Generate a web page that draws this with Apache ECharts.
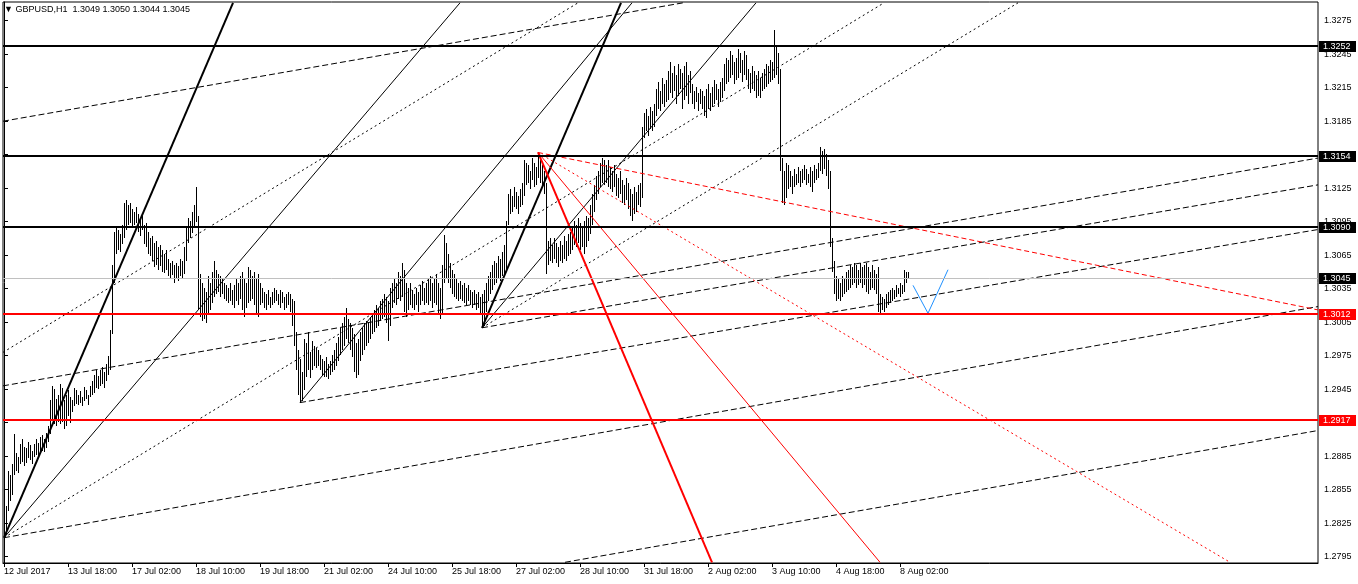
<!DOCTYPE html>
<html>
<head>
<meta charset="utf-8">
<script src="https://cdn.jsdelivr.net/npm/echarts@6/dist/echarts.min.js"></script>
<style>
html, body { margin: 0; padding: 0; background: #fff; }
#chart { width: 1358px; height: 584px; }
</style>
</head>
<body>
<div id="chart"></div>
<script>
// GBPUSD H1 bars from 12 Jul 2017 10:00, values in pips (3045 -> 1.3045)
const highs = [
  2826,2840,2872,2868,2878,2905,2888,2884,2896,2900,2893,2892,2898,2895,2890,2896,2900,2897,2902,2904,2900,2906,2912,2935,
  2948,2945,2936,2940,2950,2946,2935,2940,2944,2938,2935,2946,2944,2940,2943,2938,2947,2944,2940,2948,2952,2958,2962,2957,2962,2965,2960,2968,2975,
  2998,3056,3086,3090,3088,3084,3092,3112,3114,3110,3112,3106,3104,3108,3102,3098,3100,3092,3094,3086,3080,3082,3076,3078,3072,3074,3070,3066,3070,3062,3058,3060,3056,3058,3055,3062,3060,3072,3090,3098,3096,3104,3110,3126,3100,
  3048,3040,3036,3032,3046,3040,3050,3060,3052,3048,3046,3044,3040,3038,3036,3040,3034,3038,3044,3040,3046,3050,3044,3040,3054,3052,3046,3050,3044,3048,3040,3036,3032,3030,3034,3028,3032,3036,3034,3030,3034,3032,3028,3030,3032,3030,3026,
  3024,2996,2980,2972,2960,2990,2986,2996,2978,2988,2984,2982,2980,2976,2972,2970,2974,2968,2970,2976,2980,2986,2992,3000,3004,3010,3018,3008,3004,3000,2994,2986,2990,2996,3000,3004,3006,3004,3010,3012,3016,3020,3018,3024,3026,3030,3028,3024,3036,
  3040,3044,3040,3050,3046,3058,3052,3040,3036,3040,3034,3030,3036,3032,3038,3042,3036,3040,3044,3046,3040,3044,3048,3040,3036,3056,3083,3076,3066,3058,3052,3048,3044,3040,3042,3038,3040,3036,3038,3034,3032,3034,3030,3032,3028,3030,3034,
  3040,3046,3050,3056,3060,3058,3064,3062,3068,3074,3096,3120,3124,3118,3126,3122,3118,3124,3130,3150,3148,3146,3140,3152,3148,3144,3157,3150,3146,3140,3130,
  3078,3080,3074,3080,3076,3072,3078,3074,3082,3078,3084,3086,3090,3096,3092,3098,3094,3090,3096,3100,3098,3110,3120,3128,3136,3140,3148,3152,3150,3146,3150,3144,3140,3146,3138,3134,3140,3132,3128,3134,3130,3124,3120,3126,3122,3128,3130,
  3180,3192,3196,3190,3198,3194,3200,3214,3220,3212,3224,3218,3222,3230,3238,3228,3234,3226,3236,3232,3228,3234,3238,3226,3230,3218,3212,3216,3210,3214,3212,3208,3214,3218,3210,3216,3222,3218,3214,3220,3224,
  3236,3242,3240,3248,3244,3238,3242,3250,3246,3240,3248,3244,3232,3228,3234,3230,3226,3230,3224,3228,3232,3236,3234,3240,3238,3267,3252,3246,3232,3152,3140,3148,3146,3140,3136,3142,3138,3144,3140,3142,3146,3142,3138,3144,3140,3146,3142,3148,3162,3158,3160,3156,3150,
  3140,3080,3060,3046,3044,3040,3046,3044,3050,3052,3056,3054,3058,3056,3052,3058,3054,3056,3058,3054,3050,3056,3052,3048,3054,3030,3028,3026,3030,3032,3034,3036,3034,3038,3036,3040,3038,3052,3050,3050
];
const lows = [
  2812,2814,2836,2845,2850,2868,2872,2870,2878,2880,2876,2879,2883,2882,2878,2884,2886,2885,2888,2890,2889,2892,2898,2905,
  2918,2914,2912,2916,2914,2916,2909,2912,2921,2915,2925,2930,2932,2931,2933,2930,2934,2936,2931,2938,2940,2942,2946,2945,2948,2950,2946,2952,2958,
  2962,2994,3040,3066,3070,3068,3075,3080,3088,3092,3094,3090,3092,3094,3086,3082,3088,3075,3072,3066,3064,3060,3054,3056,3052,3055,3050,3049,3052,3046,3044,3047,3040,3044,3042,3046,3044,3048,3060,3076,3080,3085,3090,3095,3016,
  3010,3006,3008,3004,3012,3016,3022,3028,3030,3032,3028,3030,3026,3024,3022,3024,3020,3018,3024,3020,3026,3016,3010,3018,3022,3024,3026,3020,3012,3010,3020,3022,3018,3016,3020,3018,3020,3022,3024,3020,3018,3022,3016,3018,3020,3014,3002,
  2984,2962,2940,2933,2934,2944,2956,2962,2955,2962,2966,2964,2966,2962,2958,2956,2956,2954,2958,2960,2962,2966,2970,2976,2980,2984,2990,2986,2980,2974,2960,2955,2958,2970,2976,2980,2984,2986,2990,2994,2996,3000,3002,3006,3008,3010,3004,2988,3002,
  3018,3022,3020,3026,3024,3028,3014,3010,3016,3020,3018,3016,3020,3014,3020,3024,3020,3022,3020,3024,3018,3022,3020,3012,3008,3012,3040,3044,3040,3036,3030,3028,3026,3024,3026,3024,3022,3020,3024,3020,3018,3020,3016,3018,3012,3000,3002,
  3014,3024,3030,3034,3038,3040,3044,3042,3046,3048,3052,3092,3102,3104,3108,3106,3102,3108,3110,3118,3128,3130,3124,3132,3126,3128,3134,3130,3126,3120,3048,
  3056,3060,3058,3062,3058,3054,3060,3058,3062,3060,3064,3066,3070,3074,3072,3076,3070,3072,3066,3072,3078,3084,3092,3104,3114,3120,3126,3130,3128,3130,3126,3124,3122,3126,3118,3116,3120,3112,3110,3114,3106,3100,3096,3102,3104,3110,3108,
  3116,3170,3176,3172,3178,3176,3180,3190,3196,3194,3200,3198,3202,3204,3210,3206,3212,3200,3208,3214,3196,3204,3208,3200,3210,3200,3196,3202,3194,3200,3196,3190,3188,3196,3194,3198,3200,3204,3198,3202,3206,
  3212,3218,3220,3224,3226,3218,3222,3224,3228,3220,3226,3222,3214,3210,3214,3212,3206,3208,3206,3212,3214,3216,3218,3220,3222,3224,3226,3218,3140,3112,3110,3116,3124,3126,3120,3126,3128,3130,3126,3130,3132,3128,3130,3126,3122,3130,3132,3134,3140,3138,3142,3136,3124,
  3072,3050,3030,3024,3026,3024,3028,3030,3032,3034,3036,3038,3040,3036,3038,3040,3036,3038,3032,3030,3034,3036,3034,3030,3014,3012,3016,3014,3018,3020,3022,3024,3026,3028,3030,3028,3030,3032,3040,3044
];

// time axis labels, one every 32 bars
const timeLabels = ['12 Jul 2017','13 Jul 18:00','17 Jul 02:00','18 Jul 10:00','19 Jul 18:00','21 Jul 02:00','24 Jul 10:00',
  '25 Jul 18:00','27 Jul 02:00','28 Jul 10:00','31 Jul 18:00','2 Aug 02:00','3 Aug 10:00','4 Aug 18:00','8 Aug 02:00'];
const priceTicks = [1.2795,1.2825,1.2855,1.2885,1.2915,1.2945,1.2975,1.3005,1.3035,1.3065,1.3095,1.3125,1.3155,1.3185,1.3215,1.3245,1.3275];

const levelsBlack = [1.3252, 1.3154, 1.3090];
const levelsRed = [1.3012, 1.2917];
const bidPrice = 1.3045;
const header = '\u25BC GBPUSD,H1  1.3049 1.3050 1.3044 1.3045';

// trendline anchors: [bar, price, bar, price]
const fanThick = [[0, 1.2812, 114.5, 1.3291], [239, 1.3000, 308.5, 1.3291]];
const fanThin = [[0, 1.2812, 228, 1.3291], [148, 1.2933, 314, 1.3291], [239, 1.3000, 376, 1.3291]];
const fanDot = [[-0.5, 1.2978, 287, 1.3291], [0, 1.2812, 440, 1.3291], [239, 1.3000, 507, 1.3291]];
const fanDash = [[-0.5, 1.3185, 339.5, 1.3291], [-0.5, 1.2948, 657, 1.3152], [0, 1.2812, 657, 1.3019],
  [148, 1.2933, 657, 1.3088], [239, 1.3000, 657, 1.3128], [280.5, 1.2790, 657, 1.2908]];
const redThick = [[267, 1.3157, 354, 1.2790]];
const redThin = [[267, 1.3157, 438, 1.2790]];
const redDot = [[267, 1.3157, 613, 1.2790]];
const redDash = [[267, 1.3157, 657, 1.3016]];
const bluePath = [[454.5, 1.3038], [462, 1.3013], [472, 1.3052]];

const FONT = '"Liberation Sans", Arial, sans-serif';
const toPrice = v => 1 + v / 10000;

let chart = echarts.init(document.getElementById('chart'), null, { renderer: 'canvas' });

function trendSeries(list, color, width, type, z) {
  return list.map(a => ({
    type: 'line',
    data: [[a[0], a[1]], [a[2], a[3]]],
    symbol: 'none',
    silent: true,
    clip: true,
    z: z,
    lineStyle: { color: color, width: width, type: type }
  }));
}

function hlineSeries(levels, color, width) {
  return {
    type: 'custom',
    silent: true,
    z: 4,
    data: levels.map(p => [0, p]),
    encode: { x: 0, y: 1 },
    renderItem: (params, api) => {
      const cs = params.coordSys;
      const y = Math.round(api.coord([0, api.value(1)])[1]) + (width % 2 ? 0.5 : 0);
      return {
        type: 'line',
        shape: { x1: cs.x, y1: y, x2: cs.x + cs.width, y2: y },
        style: { stroke: color, lineWidth: width }
      };
    }
  };
}

// price boxes on the right scale
const boxes = levelsBlack.map(p => [0, p, '#000'])
  .concat([[0, bidPrice, '#000']])
  .concat(levelsRed.map(p => [0, p, '#ff0000']));

const series = [];

// high-low bars
series.push({
  type: 'custom',
  silent: true,
  z: 2,
  clip: true,
  data: highs.map((h, i) => [i, toPrice(lows[i]), toPrice(h)]),
  encode: { x: 0, y: [1, 2] },
  renderItem: (params, api) => {
    const lo = api.coord([api.value(0), api.value(1)]);
    const hi = api.coord([api.value(0), api.value(2)]);
    const x = Math.round(lo[0]) + 0.5;
    let y1 = Math.round(lo[1]), y2 = Math.round(hi[1]);
    if (y1 - y2 < 1) y2 = y1 - 1;
    return { type: 'line', shape: { x1: x, y1: y1, x2: x, y2: y2 }, style: { stroke: '#000', lineWidth: 1 } };
  }
});

series.push(hlineSeries([bidPrice], '#c0c0c0', 1));
series.push(hlineSeries(levelsBlack, '#000', 2));
series.push(hlineSeries(levelsRed, '#ff0000', 2));

series.push(...trendSeries(fanThick, '#000', 2, 'solid', 3));
series.push(...trendSeries(fanThin, '#000', 1, 'solid', 3));
series.push(...trendSeries(fanDot, '#000', 1, [2, 3], 3));
series.push(...trendSeries(fanDash, '#000', 1, [6, 3], 3));
series.push(...trendSeries(redThick, '#ff0000', 2, 'solid', 3));
series.push(...trendSeries(redThin, '#ff0000', 1, 'solid', 3));
series.push(...trendSeries(redDot, '#ff0000', 1, [2, 3], 3));
series.push(...trendSeries(redDash, '#ff0000', 1, [5, 3], 3));

series.push({
  type: 'line',
  data: bluePath,
  symbol: 'none',
  silent: true,
  z: 3,
  lineStyle: { color: '#1e90ff', width: 1 }
});

series.push({
  type: 'custom',
  silent: true,
  z: 10,
  clip: false,
  data: boxes,
  encode: { x: 0, y: 1 },
  renderItem: (params, api) => {
    const cs = params.coordSys;
    const y = Math.round(api.coord([0, api.value(1)])[1]);
    const x = cs.x + cs.width + 1;
    const color = boxes[params.dataIndex][2];
    return {
      type: 'group',
      children: [
        { type: 'rect', shape: { x: x, y: y - 5, width: 37, height: 11 }, style: { fill: color } },
        { type: 'text', style: { x: x + 4, y: y + 0.5, text: api.value(1).toFixed(4), fill: '#fff', font: '9px ' + FONT, verticalAlign: 'middle', align: 'left' } }
      ]
    };
  }
});

const option = {
  animation: false,
  backgroundColor: '#fff',
  title: {
    text: header,
    left: 4,
    top: 5,
    padding: 0,
    textStyle: { fontSize: 9, fontWeight: 'normal', color: '#000', fontFamily: FONT }
  },
  grid: {
    left: 3, right: 40, top: 2, bottom: 21,
    show: true, borderColor: '#000', borderWidth: 1, backgroundColor: '#fff'
  },
  xAxis: {
    type: 'value',
    min: -0.5,
    max: 657,
    axisLine: { show: true, onZero: false, lineStyle: { color: '#000', width: 1 } },
    axisTick: { show: true, length: 4, lineStyle: { color: '#000' }, customValues: timeLabels.map((t, k) => k * 32) },
    axisLabel: {
      customValues: timeLabels.map((t, k) => k * 32),
      formatter: v => timeLabels[Math.round(v / 32)] || '',
      align: 'left', margin: 4, color: '#000', fontSize: 9, fontFamily: FONT
    },
    splitLine: { show: false }
  },
  yAxis: {
    type: 'value',
    position: 'right',
    min: 1.278936,
    max: 1.329175,
    axisLine: { show: true, lineStyle: { color: '#000', width: 1 } },
    axisTick: { show: true, length: 4, lineStyle: { color: '#000' }, customValues: priceTicks },
    axisLabel: {
      customValues: priceTicks,
      formatter: v => v.toFixed(4),
      margin: 6, color: '#000', fontSize: 9, fontFamily: FONT
    },
    splitLine: { show: false }
  },
  series: series
};

chart.setOption(option);
</script>
</body>
</html>
